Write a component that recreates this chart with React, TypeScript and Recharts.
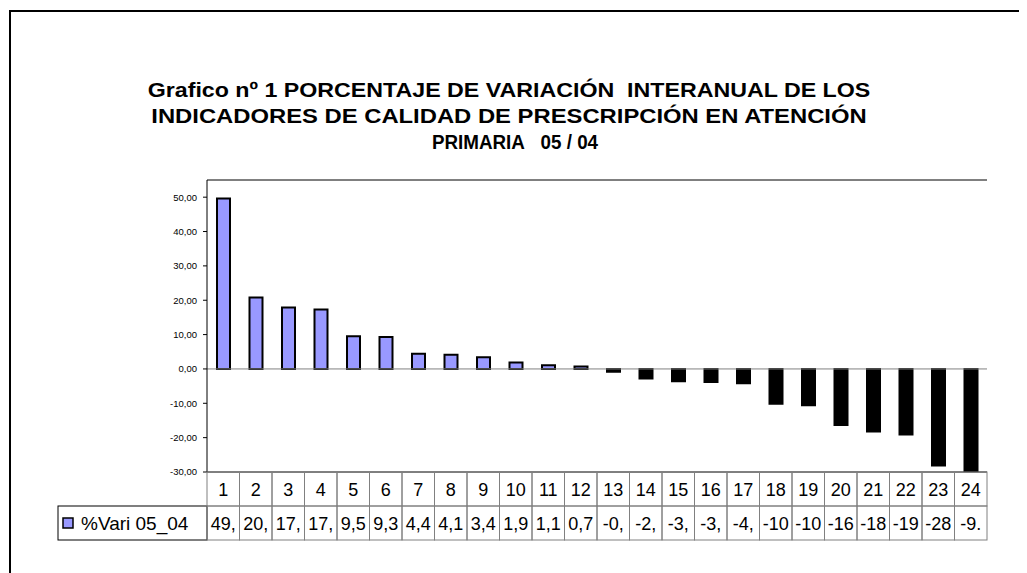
import React from 'react';
import { BarChart, Bar, XAxis, YAxis, CartesianGrid, ReferenceLine, Cell } from 'recharts';

const categories = ['1', '2', '3', '4', '5', '6', '7', '8', '9', '10', '11', '12', '13', '14', '15', '16', '17', '18', '19', '20', '21', '22', '23', '24'];
const variation = [49.6, 20.8, 17.9, 17.3, 9.5, 9.3, 4.4, 4.1, 3.4, 1.9, 1.1, 0.7, -0.8, -2.8, -3.6, -3.8, -4.2, -10.1, -10.6, -16.3, -18.2, -19.1, -28.1, -32];
const tableLabels = ['49,', '20,', '17,', '17,', '9,5', '9,3', '4,4', '4,1', '3,4', '1,9', '1,1', '0,7', '-0,', '-2,', '-3,', '-3,', '-4,', '-10', '-10', '-16', '-18', '-19', '-28', '-9.'];
const yTicks = [-30, -20, -10, 0, 10, 20, 30, 40, 50];
const seriesName = '%Vari 05_04';

const data = categories.map((name, i) => ({ name, value: variation[i], label: tableLabels[i] }));

const FONT = '"Liberation Sans", Arial, sans-serif';
const POS = '#9999FF';
const COL_W = 780 / 24;
const ROW_H = 34;

// category row + value row of the data table, drawn per tick
const TableTick = (props: any) => {
  const { x, y, payload } = props;
  const i = payload.index;
  const left = x - COL_W / 2;
  return (
    <g>
      {i === 0 && (
        <g>
          <rect x={left - 149} y={y + ROW_H} width={149} height={ROW_H} fill="#fff" stroke="#000" strokeWidth={1} />
          <rect x={left - 144} y={y + ROW_H + 12} width={10} height={10} fill={POS} stroke="#000" strokeWidth={1.5} />
          <text x={left - 126} y={y + ROW_H + 24} fontSize={19} fontFamily={FONT} fill="#000">{seriesName}</text>
        </g>
      )}
      <rect x={left} y={y} width={COL_W} height={ROW_H} fill="none" stroke="#808080" strokeWidth={1} />
      <rect x={left} y={y + ROW_H} width={COL_W} height={ROW_H} fill="none" stroke="#808080" strokeWidth={1} />
      <text x={x} y={y + 24} textAnchor="middle" fontSize={18} fontFamily={FONT} fill="#000">{payload.value}</text>
      <text x={x} y={y + ROW_H + 24} textAnchor="middle" fontSize={18} fontFamily={FONT} fill="#000">{data[i].label}</text>
    </g>
  );
};

const fmt = (v: number) => v.toFixed(2).replace('.', ',');

const lineStyle = (sx: number, dx: number): React.CSSProperties => ({
  transform: `translateX(${dx}px) scaleX(${sx})`,
  transformOrigin: '50% 50%',
});

export default function App() {
  return (
    <div style={{ position: 'relative', width: 1019, height: 565, fontFamily: FONT }}>
      <div style={{ position: 'absolute', left: 1, top: 2, width: 1018, height: 563, borderLeft: '2px solid #000', borderTop: '2px solid #000' }} />
      <div style={{ position: 'absolute', left: 60, top: 69, width: 882, textAlign: 'center', fontSize: 20, fontWeight: 'bold', lineHeight: '26px', color: '#000', whiteSpace: 'nowrap' }}>
        <div style={lineStyle(1.16, 0)}>Grafico nº 1 PORCENTAJE DE VARIACIÓN&nbsp; INTERANUAL DE LOS</div>
        <div style={lineStyle(1.19, 0)}>INDICADORES DE CALIDAD DE PRESCRIPCIÓN EN ATENCIÓN</div>
        <div style={lineStyle(0.94, 6)}>PRIMARIA&nbsp;&nbsp; 05 / 04</div>
      </div>
      <div style={{ position: 'absolute', left: 0, top: 0 }}>
        <BarChart width={1019} height={565} data={data} margin={{ top: 172, right: 40, left: 139, bottom: 31 }} barCategoryGap={0}>
          <CartesianGrid vertical={false} stroke="#111" strokeWidth={1} horizontalValues={yTicks} />
          <XAxis dataKey="name" height={70} interval={0} axisLine={{ stroke: '#000' }} tickLine={false} tickSize={0} tickMargin={0} tick={<TableTick />} />
          <YAxis yAxisId="l" domain={[-30, 55]} ticks={yTicks} allowDataOverflow width={60} axisLine={{ stroke: '#000' }} tickLine={{ stroke: '#000' }} tickSize={4} tickMargin={6} tickFormatter={fmt} tick={{ fontSize: 9.5, fill: '#000', fontFamily: FONT }} />
          <YAxis yAxisId="r" orientation="right" domain={[-30, 55]} width={0} tick={false} tickLine={false} axisLine={{ stroke: '#808080' }} />
          <ReferenceLine yAxisId="l" y={55} stroke="#000" />
          <ReferenceLine yAxisId="l" y={0} stroke="#808080" />
          <Bar yAxisId="l" dataKey="value" barSize={13} stroke="#000" strokeWidth={2} isAnimationActive={false}>
            {data.map((d, i) => (
              <Cell key={`c-${i}`} fill={d.value < 0 ? '#000' : POS} />
            ))}
          </Bar>
        </BarChart>
      </div>
    </div>
  );
}
